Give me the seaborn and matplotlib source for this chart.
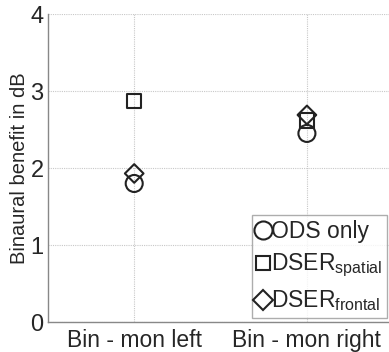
import numpy as np
import pandas as pd
import matplotlib
matplotlib.use('Agg')
import matplotlib.pyplot as plt
import seaborn as sns
from matplotlib.lines import Line2D

# values
aCondition = ['Bin - mon left', 'Bin - mon right']
aOds = [1.80, 2.45]
aSpatial = [2.87, 2.62]
aFrontal = [1.93, 2.69]
aLabel = ['ODS only', r'DSER$_{\mathregular{spatial}}$', r'DSER$_{\mathregular{frontal}}$']
aMarker = ['o', 's', 'D']

sns.set_style('white')
plt.rcParams['font.family'] = ['Liberation Sans', 'DejaVu Sans']
plt.rcParams['mathtext.fontset'] = 'custom'
plt.rcParams['mathtext.rm'] = 'Liberation Sans'

fig = plt.figure(figsize=(3.89, 3.52), dpi=100)
ax = fig.add_axes([0.123, 0.085, 0.888, 0.875])

aSeries = [aOds, aSpatial, aFrontal]
for values, marker, label in zip(aSeries, aMarker, aLabel):
    df = pd.DataFrame({'cond': aCondition, 'val': values})
    sz = 150 if marker == 'o' else (110 if marker == 's' else 90)
    sns.scatterplot(data=df, x='cond', y='val', marker=marker, s=sz,
                    facecolor='none', edgecolor='#222222', linewidth=1.5,
                    ax=ax, legend=False, zorder=3)

ax.set_xlim(-0.5, 1.5)
ax.set_ylim(0, 4)
ax.set_yticks([0, 1, 2, 3, 4])
ax.set_xticks([0, 1])
ax.set_xticklabels(aCondition, fontsize=16.5)
ax.tick_params(axis='y', labelsize=17, length=0, pad=3)
ax.tick_params(axis='x', length=0, pad=5)
ax.set_xlabel('')
ax.set_ylabel('Binaural benefit in dB', fontsize=14.5, labelpad=1)
ax.grid(True, linestyle=(0, (1, 1)), color='#c8c8c8', linewidth=0.8)
for side in ['top', 'right']:
    ax.spines[side].set_visible(False)
for side in ['left', 'bottom']:
    ax.spines[side].set_color('#888888')
    ax.spines[side].set_linewidth(1.0)

handles = [Line2D([], [], linestyle='none', marker=m, markersize=ms,
                  markerfacecolor='none', markeredgecolor='#222222', markeredgewidth=1.5)
           for m, ms in zip(aMarker, [13, 10, 10])]
leg = ax.legend(handles, aLabel, loc='lower left', bbox_to_anchor=(0.59, 0.013),
                borderaxespad=0, fontsize=16.5, frameon=True, fancybox=False,
                handlelength=0.6, handletextpad=0.05, borderpad=0.2, labelspacing=0.4)
leg.get_frame().set_edgecolor('#999999')
leg.get_frame().set_linewidth(1.0)

plt.savefig('out.png', dpi=100)
